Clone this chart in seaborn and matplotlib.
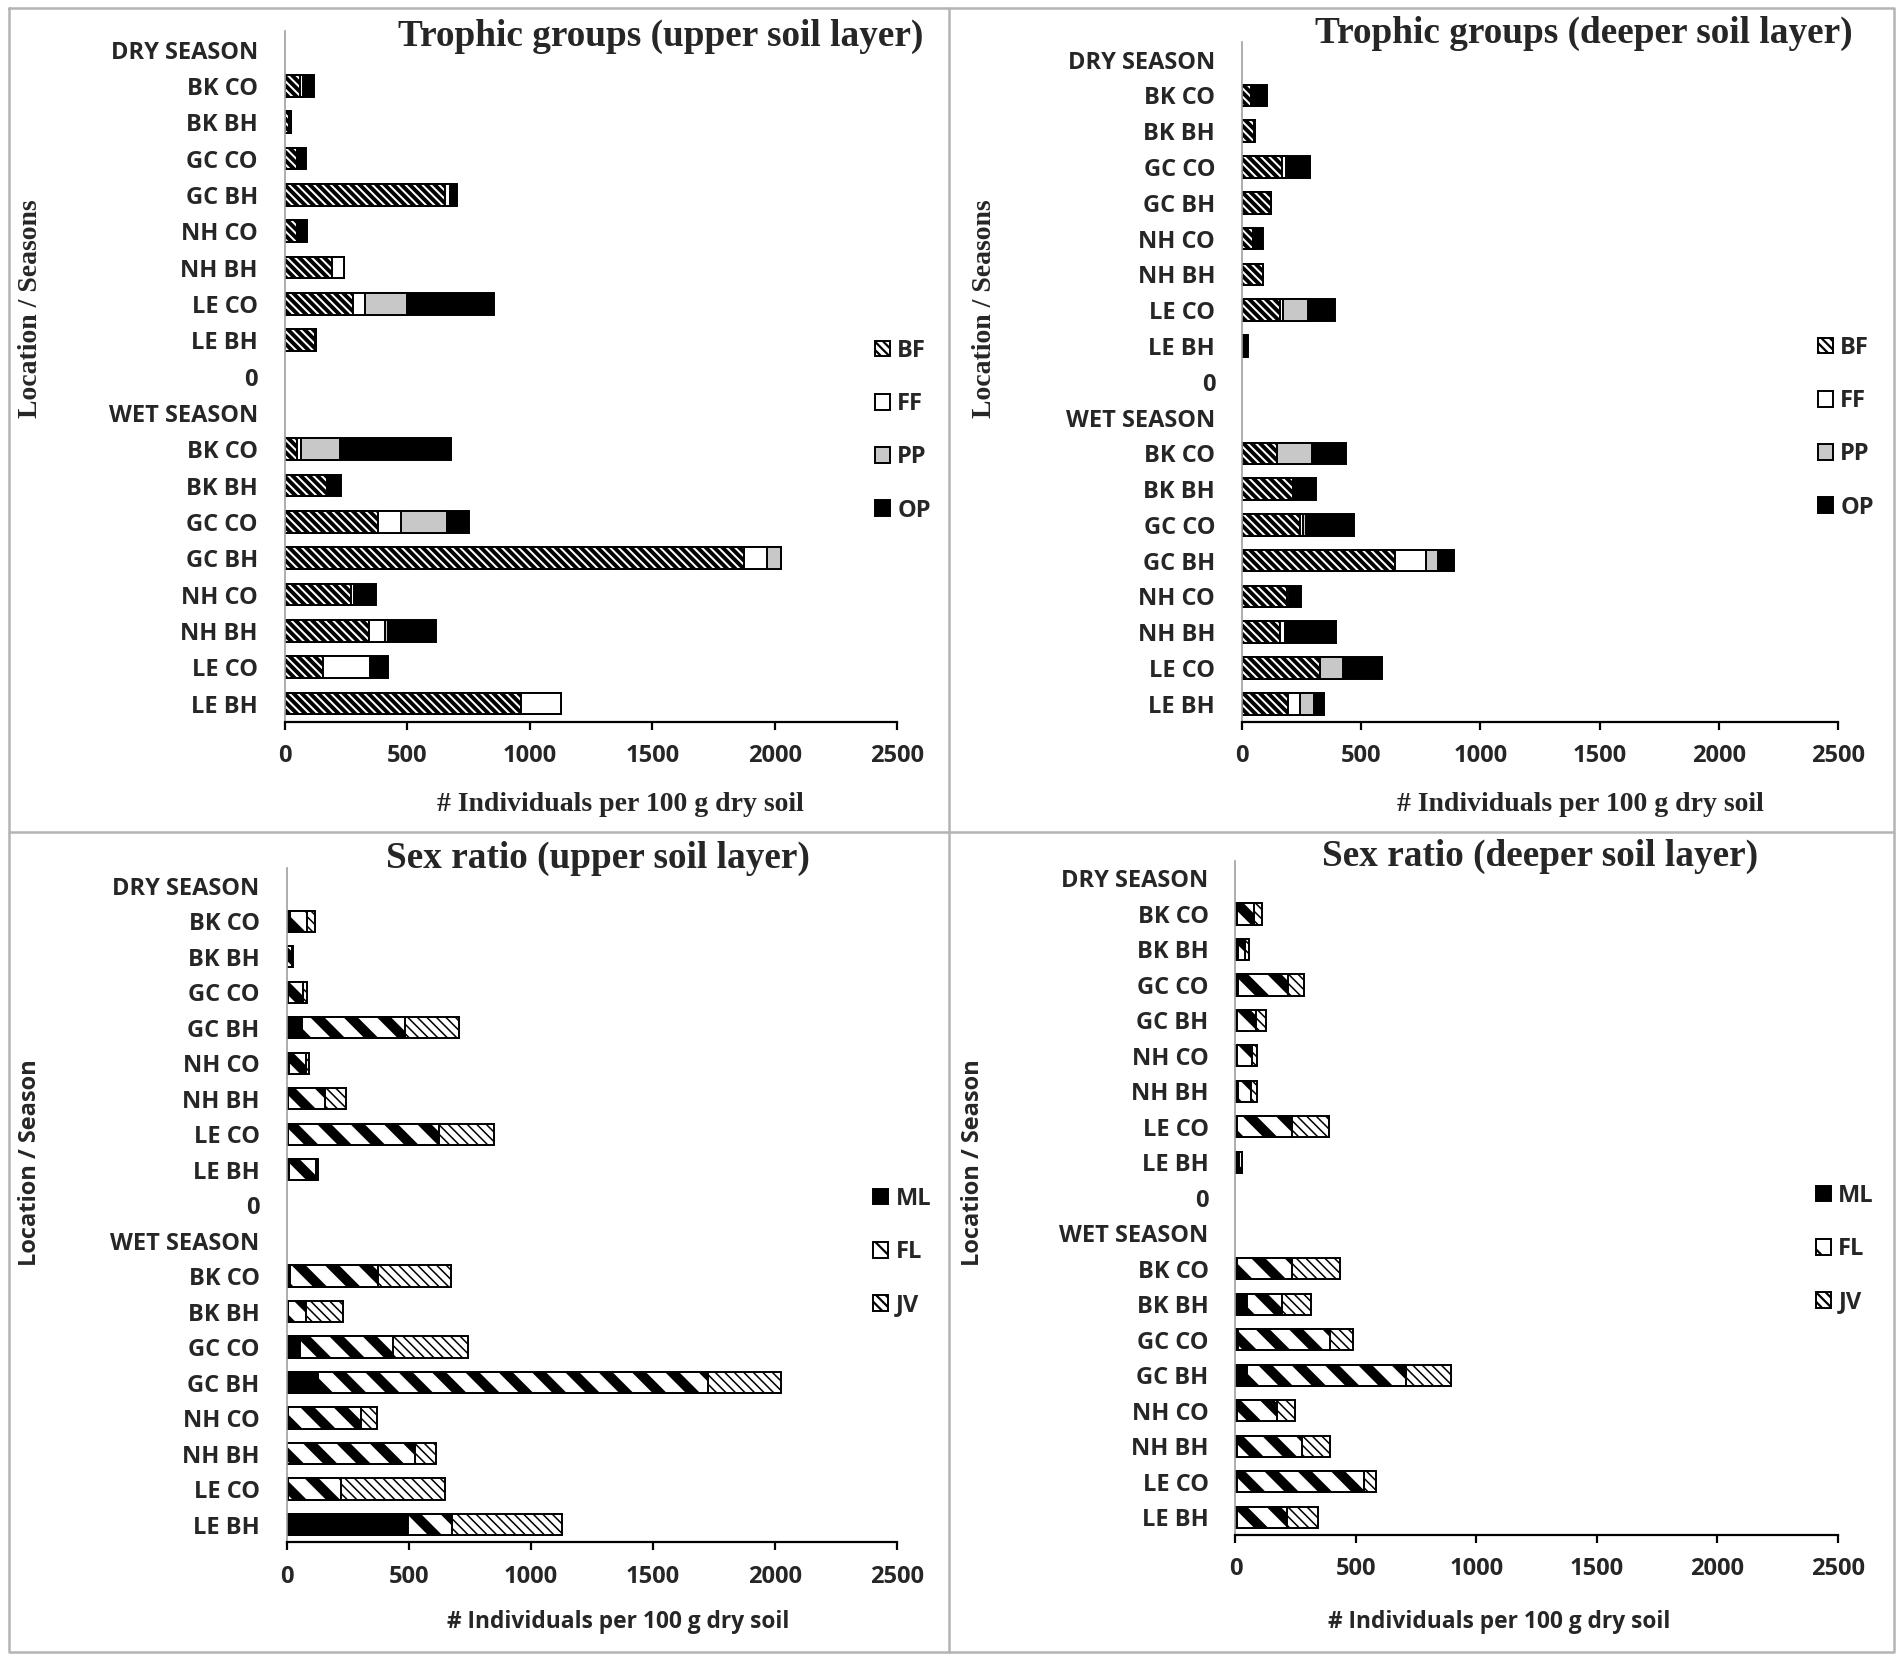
import numpy as np
import pandas as pd
import matplotlib
matplotlib.use("Agg")
import matplotlib.pyplot as plt
import seaborn as sns
from matplotlib.lines import Line2D

sns.set_style("white")
plt.rcParams['font.family'] = ['Open Sans', 'DejaVu Sans']
plt.rcParams['font.weight'] = 'bold'

nan = np.nan

# category rows, top to bottom
rows = ["DRY SEASON", "BK CO", "BK BH", "GC CO", "GC BH", "NH CO", "NH BH", "LE CO", "LE BH",
        "0", "WET SEASON", "BK CO", "BK BH", "GC CO", "GC BH", "NH CO", "NH BH", "LE CO", "LE BH"]
keys = [f"{i:02d} {r}" for i, r in enumerate(rows)]

# Trophic groups, upper soil layer
up_bf = [nan, 62, 18, 50, 656, 50, 193, 277, 124, nan, nan, 50, 173, 379, 1874, 272, 342, 156, 965]
up_ff = [nan, 12, 6, 0, 17, 0, 47, 50, 5, nan, nan, 15, 0, 97, 94, 10, 67, 191, 161]
up_pp = [nan, 0, 0, 0, 0, 0, 0, 173, 0, nan, nan, 160, 0, 186, 57, 0, 12, 0, 0]
up_op = [nan, 45, 2, 37, 32, 42, 0, 354, 0, nan, nan, 453, 57, 89, 0, 92, 196, 74, 0]

# Trophic groups, deeper soil layer
dp_bf = [nan, 38, 50, 168, 122, 46, 89, 160, 8, nan, nan, 147, 214, 242, 641, 188, 160, 326, 191]
dp_ff = [nan, 0, 0, 18, 0, 0, 0, 13, 0, nan, nan, 0, 0, 13, 130, 10, 18, 0, 51]
dp_pp = [nan, 0, 0, 0, 0, 0, 0, 102, 0, nan, nan, 147, 0, 15, 51, 0, 0, 97, 58]
dp_op = [nan, 66, 3, 97, 0, 40, 0, 114, 17, nan, nan, 142, 94, 201, 69, 51, 214, 163, 43]

# Sex ratio, upper soil layer
up_ml = [nan, 15, 0, 5, 62, 10, 5, 5, 10, nan, nan, 15, 5, 55, 129, 5, 0, 5, 497]
up_fl = [nan, 70, 20, 60, 422, 70, 150, 620, 110, nan, nan, 360, 75, 380, 1597, 300, 526, 218, 179]
up_jv = [nan, 32, 7, 20, 221, 10, 87, 224, 10, nan, nan, 300, 149, 308, 298, 65, 87, 427, 452]

# Sex ratio, deeper soil layer
dp_ml = [nan, 5, 10, 10, 5, 5, 10, 5, 15, nan, nan, 5, 48, 10, 48, 5, 5, 5, 5]
dp_fl = [nan, 70, 30, 210, 80, 65, 55, 228, 12, nan, nan, 228, 146, 383, 659, 166, 272, 530, 208]
dp_jv = [nan, 35, 15, 65, 43, 20, 25, 156, 0, nan, nan, 200, 118, 93, 186, 76, 116, 47, 130]

SERIF = ['Liberation Serif', 'DejaVu Serif']
LBL = 8.5


def plot_stack(ax, segments):
    """segments: list of (name, values, facecolor, hatch, hatch_lw), left to right"""
    vals = np.array([s[1] for s in segments], dtype=float)
    cum = np.cumsum(vals, axis=0)
    for k in reversed(range(len(segments))):
        name, _, face, hatch, hlw = segments[k]
        plt.rcParams['hatch.linewidth'] = hlw
        df = pd.DataFrame({'key': keys, 'val': cum[k]})
        sns.barplot(data=df, x='val', y='key', order=keys, orient='h', color=face,
                    saturation=1, hatch=hatch, edgecolor='black', linewidth=0.7,
                    width=0.6, errorbar=None, label=name, ax=ax)
        for p in ax.containers[-1]:
            if hasattr(p, 'set_hatch_linewidth'):
                p.set_hatch_linewidth(hlw)
    ax.set_xlim(0, 2500)
    ax.set_ylim(18.5, -0.5)
    ax.set_xticks([0, 500, 1000, 1500, 2000, 2500])
    ax.set_yticks(range(len(rows)))
    ax.set_yticklabels(rows)
    ax.set_xlabel("")
    ax.set_ylabel("")
    for s in ['top', 'right']:
        ax.spines[s].set_visible(False)
    ax.spines['left'].set_color('#a0a0a0')
    ax.spines['left'].set_linewidth(0.6)
    ax.spines['bottom'].set_color('black')
    ax.spines['bottom'].set_linewidth(0.8)
    ax.tick_params(axis='x', direction='out', length=3, width=0.8, pad=5,
                   labelsize=LBL, bottom=True, color='black')
    ax.tick_params(axis='y', length=0, pad=9.7, labelsize=LBL)
    for t in ax.get_xticklabels() + ax.get_yticklabels():
        t.set_fontweight('bold')


def add_legend(ax, names, x, y):
    hl = dict(zip(*ax.get_legend_handles_labels()[::-1]))
    ax.legend([hl[n] for n in names], names, loc='upper left', bbox_to_anchor=(x, y),
              bbox_transform=fig.transFigure, frameon=False, borderpad=0,
              labelspacing=1.24, handlelength=0.65, handleheight=0.65,
              handletextpad=0.3, prop={'size': LBL, 'weight': 'bold'})


fig = plt.figure(figsize=(9.505, 8.32), dpi=200)

ax1 = fig.add_axes([0.1498, 0.5663, 0.3221, 0.4148])
ax2 = fig.add_axes([0.6534, 0.5663, 0.3134, 0.4086])
ax3 = fig.add_axes([0.1508, 0.0731, 0.3211, 0.4053])
ax4 = fig.add_axes([0.6499, 0.0775, 0.3169, 0.4053])

BF_H, FL_H, JV_H = '\\' * 8, '\\' * 2, '\\' * 7

plot_stack(ax1, [("BF", up_bf, 'white', BF_H, 1.4), ("FF", up_ff, 'white', None, 0.8),
                 ("PP", up_pp, '#c8c8c8', None, 0.8), ("OP", up_op, 'black', None, 0.8)])
plot_stack(ax2, [("BF", dp_bf, 'white', BF_H, 1.4), ("FF", dp_ff, 'white', None, 0.8),
                 ("PP", dp_pp, '#c8c8c8', None, 0.8), ("OP", dp_op, 'black', None, 0.8)])
plot_stack(ax3, [("ML", up_ml, 'black', None, 0.8), ("FL", up_fl, 'white', FL_H, 3.6),
                 ("JV", up_jv, 'white', JV_H, 0.55)])
plot_stack(ax4, [("ML", dp_ml, 'black', None, 0.8), ("FL", dp_fl, 'white', FL_H, 3.6),
                 ("JV", dp_jv, 'white', JV_H, 0.55)])

add_legend(ax1, ["BF", "FF", "PP", "OP"], 0.454, 0.8035)
add_legend(ax2, ["BF", "FF", "PP", "OP"], 0.950, 0.8053)
add_legend(ax3, ["ML", "FL", "JV"], 0.453, 0.2939)
add_legend(ax4, ["ML", "FL", "JV"], 0.949, 0.2957)

# titles
fig.text(0.3476, 0.978, "Trophic groups (upper soil layer)", ha='center', va='center',
         family=SERIF, weight='bold', size=13.4)
fig.text(0.8332, 0.980, "Trophic groups (deeper soil layer)", ha='center', va='center',
         family=SERIF, weight='bold', size=13.4)
fig.text(0.3145, 0.484, "Sex ratio (upper soil layer)", ha='center', va='center',
         family=SERIF, weight='bold', size=13.4)
fig.text(0.810, 0.4855, "Sex ratio (deeper soil layer)", ha='center', va='center',
         family=SERIF, weight='bold', size=13.4)

# axis labels
xl = "# Individuals per 100 g dry soil"
fig.text(0.3265, 0.5167, xl, ha='center', va='center', family=SERIF, weight='bold', size=10)
fig.text(0.8316, 0.5167, xl, ha='center', va='center', family=SERIF, weight='bold', size=10)
fig.text(0.3253, 0.0254, xl, ha='center', va='center', weight='bold', size=8.2)
fig.text(0.7886, 0.0254, xl, ha='center', va='center', weight='bold', size=8.2)

fig.text(0.016, 0.8147, "Location / Seasons", rotation=90, ha='center', va='center',
         family=SERIF, weight='bold', size=10)
fig.text(0.518, 0.8147, "Location / Seasons", rotation=90, ha='center', va='center',
         family=SERIF, weight='bold', size=10)
fig.text(0.016, 0.3016, "Location / Season", rotation=90, ha='center', va='center',
         weight='bold', size=8.5)
fig.text(0.512, 0.3016, "Location / Season", rotation=90, ha='center', va='center',
         weight='bold', size=8.5)

# panel frames
frame = dict(transform=fig.transFigure, color='#b4b4b4', lw=0.9)
fig.add_artist(Line2D([0.0045, 0.9963, 0.9963, 0.0045, 0.0045],
                      [0.9949, 0.9949, 0.0072, 0.0072, 0.9949], **frame))
fig.add_artist(Line2D([0.4994, 0.4994], [0.0072, 0.9949], **frame))
fig.add_artist(Line2D([0.0045, 0.9963], [0.5, 0.5], **frame))

fig.savefig("out.png", dpi=200)
